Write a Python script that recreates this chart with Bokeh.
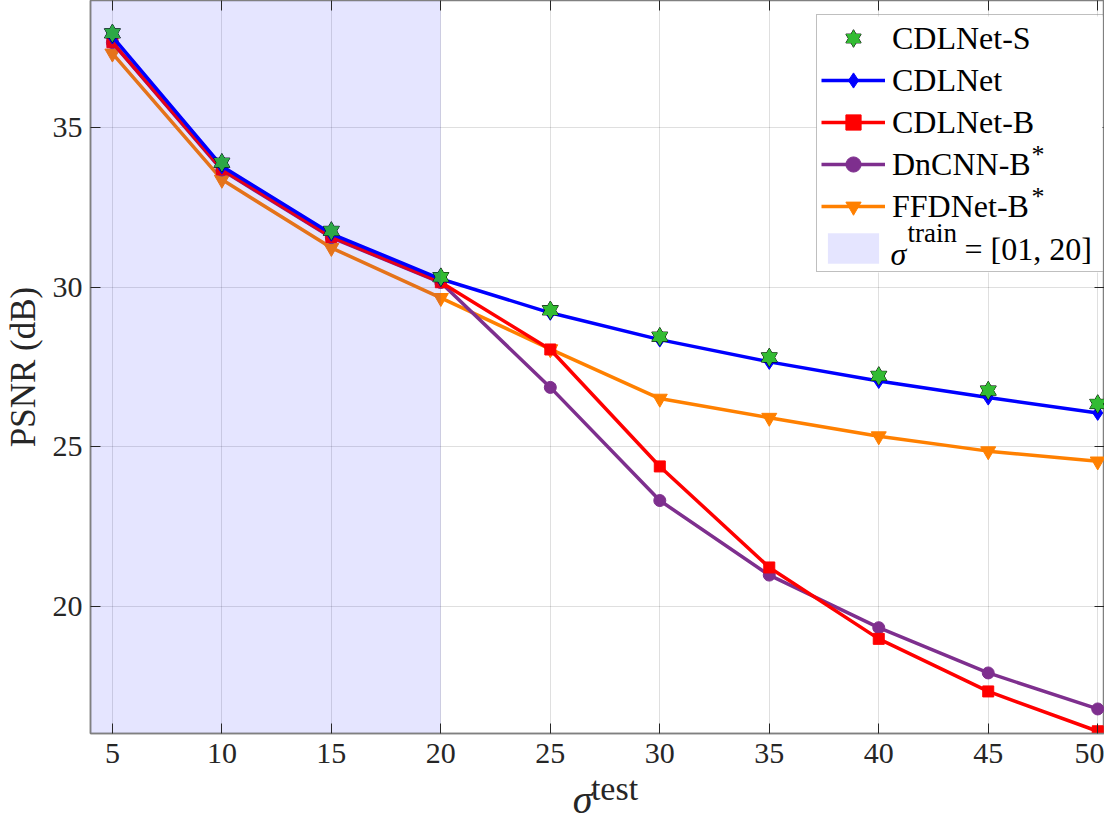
from bokeh.plotting import figure
from bokeh.models import (Range1d, LinearAxis, FixedTicker, Legend, LegendItem, Label,
                          BoxAnnotation, CustomLabelingPolicy)
from bokeh.embed import file_html
from bokeh.resources import INLINE

# ---------------- data ----------------
sigma_test = [5, 10, 15, 20, 25, 30, 35, 40, 45, 50]
cdlnet_s = [37.97, 33.91, 31.77, 30.32, 29.28, 28.45, 27.80, 27.22, 26.76, 26.34]
cdlnet = [37.87, 33.80, 31.68, 30.26, 29.20, 28.36, 27.66, 27.06, 26.54, 26.06]
cdlnet_b = [37.69, 33.70, 31.58, 30.16, 28.05, 24.38, 21.21, 18.97, 17.32, 16.07]
dncnn_b = [37.68, 33.68, 31.56, 30.15, 26.86, 23.31, 20.97, 19.32, 17.90, 16.77]
ffdnet_b = [37.34, 33.38, 31.24, 29.67, 28.06, 26.51, 25.91, 25.33, 24.86, 24.54]
train_range = [1, 20]
x_ticks = [5, 10, 15, 20, 25, 30, 35, 40, 45, 50]
y_ticks = [20, 25, 30, 35]
legend_labels = ["CDLNet-S", "CDLNet", "CDLNet-B", "DnCNN-B", "FFDNet-B"]

FONT = "Liberation Serif"
C_GREEN = "#33bb33"
C_BLUE = "#0000ff"
C_RED = "#ff0000"
C_PURPLE = "#7e2f8e"
C_ORANGE = "#ff8000"
AX = "#262626"
NB = "\u00a0"

# frame geometry (canvas px)
FL, FT, FR, FB = 88, 0, 1104, 733

p = figure(width=1104, height=824, output_backend="svg", toolbar_location=None,
           x_range=Range1d(4, 50.31), y_range=Range1d(16, 39),
           min_border_left=FL, min_border_right=0, min_border_top=0, min_border_bottom=824 - FB,
           background_fill_color="white", border_fill_color="white")
p.outline_line_color = "#808080"
p.outline_line_width = 1.5

# axes
for ax in [p.xaxis[0], p.yaxis[0]]:
    ax.major_tick_in = 10
    ax.major_tick_out = 0
    ax.minor_tick_in = 0
    ax.minor_tick_out = 0
    ax.major_tick_line_color = AX
    ax.axis_line_color = "#808080"
    ax.axis_line_width = 1.5
    ax.major_label_text_font = FONT
    ax.major_label_text_font_size = "30px"
    ax.major_label_text_color = AX
p.xaxis[0].ticker = FixedTicker(ticks=x_ticks)
p.yaxis[0].ticker = FixedTicker(ticks=y_ticks)
p.xaxis[0].major_label_standoff = 10
p.yaxis[0].major_label_standoff = 8
p.yaxis[0].axis_label = "PSNR (dB)"
p.yaxis[0].axis_label_text_font = FONT
p.yaxis[0].axis_label_text_font_size = "35px"
p.yaxis[0].axis_label_text_font_style = "normal"
p.yaxis[0].axis_label_text_color = AX
p.yaxis[0].axis_label_standoff = 7

# x-axis label sigma^test : superscript "test" on the primary axis, sigma on a second one below
p.xaxis[0].axis_label = NB * 4 + "test"
p.xaxis[0].axis_label_text_font = FONT
p.xaxis[0].axis_label_text_font_size = "34px"
p.xaxis[0].axis_label_text_font_style = "normal"
p.xaxis[0].axis_label_text_color = AX
p.xaxis[0].axis_label_standoff = 4

sig_ax = LinearAxis(ticker=FixedTicker(ticks=[]), axis_line_color=None, major_tick_line_color=None,
                    minor_tick_line_color=None, major_tick_out=0, major_tick_in=0,
                    minor_tick_out=0, minor_tick_in=0,
                    major_label_text_font_size="0px", major_label_standoff=0,
                    axis_label="σ" + NB * 3, axis_label_text_font=FONT,
                    axis_label_text_font_size="40px", axis_label_text_font_style="italic",
                    axis_label_text_color=AX, axis_label_standoff=-33)
p.add_layout(sig_ax, "below")

# mirror axes (ticks only, no labels) on top and right, as in a boxed plot
no_labels = CustomLabelingPolicy(code="for (const i of indices) { indices.unset(i) }\nreturn indices")
top_ax = LinearAxis(ticker=FixedTicker(ticks=x_ticks), major_tick_in=10, major_tick_out=0,
                    minor_tick_in=0, minor_tick_out=0, major_label_text_font_size="0px",
                    major_label_standoff=0, major_label_policy=no_labels,
                    axis_line_color="#808080", major_tick_line_color=AX)
right_ax = LinearAxis(ticker=FixedTicker(ticks=y_ticks), major_tick_in=10, major_tick_out=0,
                      minor_tick_in=0, minor_tick_out=0, major_label_text_font_size="0px",
                      major_label_standoff=0, major_label_policy=no_labels,
                      axis_line_color="#808080", major_tick_line_color=AX)
p.add_layout(top_ax, "above")
p.add_layout(right_ax, "right")

p.xgrid.ticker = FixedTicker(ticks=x_ticks)
p.ygrid.ticker = FixedTicker(ticks=y_ticks)
p.grid.grid_line_color = AX
p.grid.grid_line_alpha = 0.15

LW = 3.5
# series (drawn so that the blue/green sit on top)
o_l = p.line(sigma_test, ffdnet_b, line_color=C_ORANGE, line_width=LW)
o_m = p.scatter(sigma_test, ffdnet_b, marker="inverted_triangle", size=15, fill_color=C_ORANGE, line_color=C_ORANGE)
pu_l = p.line(sigma_test, dncnn_b, line_color=C_PURPLE, line_width=LW)
pu_m = p.scatter(sigma_test, dncnn_b, marker="circle", size=12, fill_color=C_PURPLE, line_color=C_PURPLE)
r_l = p.line(sigma_test, cdlnet_b, line_color=C_RED, line_width=LW)
r_m = p.scatter(sigma_test, cdlnet_b, marker="square", size=11, fill_color=C_RED, line_color=C_RED)
b_l = p.line(sigma_test, cdlnet, line_color=C_BLUE, line_width=LW)
b_m = p.scatter(sigma_test, cdlnet, marker="diamond", size=15, fill_color=C_BLUE, line_color=C_BLUE)
g1 = p.scatter(sigma_test, cdlnet_s, marker="triangle", size=16, fill_color=C_GREEN, line_color="black", line_width=1)
g2 = p.scatter(sigma_test, cdlnet_s, marker="inverted_triangle", size=16, fill_color=C_GREEN, line_color="black", line_width=1)
g3 = p.scatter(sigma_test, cdlnet_s, marker="triangle", size=16, fill_color=C_GREEN, line_color=None)
g4 = p.scatter(sigma_test, cdlnet_s, marker="inverted_triangle", size=16, fill_color=C_GREEN, line_color=None)

# training range shading (on top, translucent)
shade = p.quad(left=[train_range[0]], right=[train_range[1]],
               bottom=[p.y_range.start - 10], top=[p.y_range.end + 10],
               fill_color="blue", fill_alpha=0.1, line_color=None)

# legend geometry (canvas px)
LG_L, LG_T, LG_R = 814, 16, 1100
PAD, ROW_H, SPC, GW, STAND = 4, 38, 4, 64, 7
N_ITEMS = 6
LG_B = LG_T + 2 * PAD + N_ITEMS * ROW_H + (N_ITEMS - 1) * SPC
LABEL_W = (LG_R - LG_L) - 2 * PAD - GW - STAND

# opaque white box behind a transparent legend, so that extra text can sit on it
p.add_layout(BoxAnnotation(left=LG_L - FL, right=LG_R - FL, top=FB - LG_T, bottom=FB - LG_B,
                           left_units="screen", right_units="screen",
                           top_units="screen", bottom_units="screen",
                           fill_color="white", fill_alpha=1.0, line_color=None))


def lab(text, px, py, size, style="normal"):
    p.add_layout(Label(x=px - FL, y=FB - py, x_units="screen", y_units="screen", text=text,
                       text_font=FONT, text_font_size=size, text_font_style=style,
                       text_color="black", text_align="left", text_baseline="alphabetic"))


def row_c(i):
    return LG_T + PAD + ROW_H / 2 + i * (ROW_H + SPC)


TX = LG_L + PAD + GW + STAND
lab("*", 1029, row_c(3) - 11, "26px")
lab("*", 1029, row_c(4) - 11, "26px")
lab("σ", TX - 1, row_c(5) + 4, "32px", style="italic")
lab("train", TX + 16, row_c(5) - 17, "27px")
lab("= [01, 20]", TX + 73, row_c(5) - 1, "32px")

legend = Legend(items=[
    LegendItem(label=legend_labels[0], renderers=[g1, g2, g3, g4]),
    LegendItem(label=legend_labels[1], renderers=[b_l, b_m]),
    LegendItem(label=legend_labels[2], renderers=[r_l, r_m]),
    LegendItem(label=legend_labels[3], renderers=[pu_l, pu_m]),
    LegendItem(label=legend_labels[4], renderers=[o_l, o_m]),
    LegendItem(label=" ", renderers=[shade]),
], location=(LG_L - FL, FB - LG_B), margin=0, padding=PAD, spacing=SPC,
   glyph_width=GW, glyph_height=ROW_H, label_height=ROW_H, label_width=LABEL_W, label_standoff=STAND,
   label_text_font=FONT, label_text_font_size="32px", label_text_color="black",
   border_line_color="#808080", border_line_width=1.5,
   background_fill_alpha=0.0)
p.add_layout(legend)

open("out.html", "w").write(file_html(p, INLINE))
